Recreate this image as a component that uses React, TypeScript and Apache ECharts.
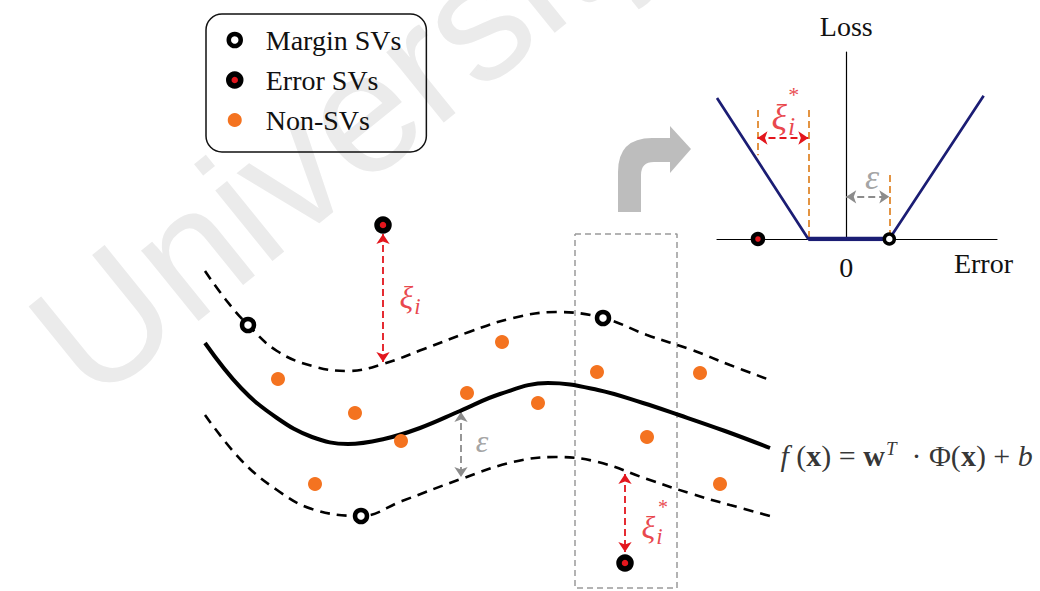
import React, { useEffect, useRef } from "react";
import * as echarts from "echarts";

// ---------- main panel (diagram units: x to the right, y downward) ----------
const fitCurve: [number, number][] = [
  [205, 343], [241, 388], [277, 418], [312, 437], [348, 444], [384, 439], [420, 428],
  [460, 411], [500, 394], [548, 383], [598, 390], [643, 403], [679, 415],
  [725, 431], [770, 448],
];
const upperTube: [number, number][] = [
  [205, 271], [226, 300], [248, 325], [277, 351], [312, 366], [348, 371], [383, 364],
  [424, 349], [469, 332], [513, 318], [556, 312], [603, 318], [647, 335], [692, 350],
  [730, 365], [770, 380],
];
const lowerTube: [number, number][] = [
  [205, 415], [241, 460], [277, 490], [312, 509], [361, 516], [402, 501], [461, 479],
  [513, 462], [556, 457], [598, 462], [647, 479], [692, 494], [730, 505], [770, 516],
];
const marginSVs: [number, number][] = [[248, 325], [603, 318], [361, 516]];
const errorSVs: [number, number][] = [[383, 225], [625, 563]];
const nonSVs: [number, number][] = [
  [278, 379], [355, 413], [401, 441], [315, 484], [467, 393], [502, 342], [538, 403],
  [597, 372], [647, 437], [700, 373], [720, 484],
];
const slackArrows: [number, number][][] = [
  [[383, 234], [383, 362]],
  [[625, 474], [625, 552]],
];
const epsilonArrow: [number, number][] = [[461, 412], [461, 477]];
const windowBox: [number, number][] = [[575, 234], [677, 234], [677, 588], [575, 588], [575, 234]];
const xiLabelAt: [number, number] = [410, 297];
const xiStarLabelAt: [number, number] = [652, 527];
const xiStarMarkAt: [number, number] = [663, 507];
const epsLabelAt: [number, number] = [482, 441];
const formulaAt: [number, number] = [780, 455];

// ---------- inset: epsilon-insensitive loss (x = error, y = loss) ----------
const lossCurve: [number, number][] = [[-3, 3.28], [-0.88, 0], [1, 0], [3.19, 3.33]];
const insensitiveZone: [number, number][] = [[-0.88, 0], [1, 0]];
const guideLines: [number, number][][] = [
  [[-2.06, 3.0], [-2.06, 1.95]],
  [[-0.88, 3.0], [-0.88, 0]],
  [[1, 1.49], [1, 0]],
];
const insetSlackArrow: [number, number][] = [[-2.06, 2.35], [-0.88, 2.35]];
const insetEpsArrow: [number, number][] = [[0, 0.98], [1, 0.98]];
const insetErrorSV: [number, number][] = [[-2.05, 0]];
const insetMarginSV: [number, number][] = [[1, 0]];
const insetXiAt: [number, number] = [-1.46, 2.84];
const insetXiStarAt: [number, number] = [-1.22, 3.35];
const insetEpsAt: [number, number] = [0.6, 1.44];

const legendNames = ["Margin SVs", "Error SVs", "Non-SVs"];

const SERIF = "Liberation Serif, Times New Roman, DejaVu Serif, serif";
const SANS = "Liberation Sans, Arial, sans-serif";
const RED = "#e3161d";
const ORANGE = "#f47320";
const NAVY = "#1b1d74";
const GREY = "#8c8c8c";
const BENT_ARROW_PATH =
  "M18 92 L18 52 Q18 18 52 18 L70 18 L70 6 L91 29 L70 53 L70 42 L54 42 Q41 42 41 55 L41 92 Z";

const legendText = { fontFamily: SERIF, fontSize: 28, color: "#111", fontStyle: "normal" };

function greek(color: string, size: number) {
  return {
    g: { fontFamily: SERIF, fontStyle: "italic", fontSize: size, color, lineHeight: size + 10 },
    s: {
      fontFamily: SERIF, fontStyle: "italic", fontSize: Math.round(size * 0.72), color,
      verticalAlign: "bottom", lineHeight: size + 10, padding: [0, 0, 0, 1],
    },
  };
}

function labelPoint(value: [number, number], text: string, rich: any, extra: any = {}) {
  return {
    value,
    label: { show: true, formatter: text, rich, position: "inside", ...extra },
  };
}

function buildOption(): any {
  const hiddenAxis = { type: "value", show: false };
  const FS = 30;
  const formulaRich = {
    n: { fontFamily: SERIF, fontSize: FS, color: "#000", lineHeight: 42 },
    it: { fontFamily: SERIF, fontSize: FS, fontStyle: "italic", color: "#000", lineHeight: 42 },
    bd: { fontFamily: SERIF, fontSize: FS, fontWeight: "bold", color: "#000", lineHeight: 42 },
    sup: {
      fontFamily: SERIF, fontSize: 19, fontStyle: "italic", color: "#000", lineHeight: 42,
      verticalAlign: "top", padding: [5, 0, 0, 1],
    },
  };
  const arrowLines = (data: [number, number][][], color: string, xi: number, size: number) => ({
    type: "lines",
    coordinateSystem: "cartesian2d",
    xAxisIndex: xi,
    yAxisIndex: xi,
    silent: true,
    symbol: ["arrow", "arrow"],
    symbolSize: size,
    lineStyle: { color, width: 1.8, type: [7, 4], opacity: 1, curveness: 0 },
    data: data.map((c) => ({ coords: c })),
    z: 3,
  });
  return {
    animation: false,
    backgroundColor: "#fff",
    textStyle: { fontFamily: SERIF },
    grid: [
      { left: 0, top: 0, width: 1040, height: 591 },
      { left: 717, top: 52, width: 280, height: 187 },
    ],
    xAxis: [
      { ...hiddenAxis, gridIndex: 0, min: 0, max: 1040 },
      {
        type: "value", gridIndex: 1, min: -3, max: 3.5, interval: 1,
        axisLine: { show: true, lineStyle: { color: "#000", width: 1.2 } },
        axisTick: { show: false }, splitLine: { show: false },
        axisLabel: {
          formatter: (v: number) => (v === 0 ? "0" : ""),
          fontFamily: SERIF, fontSize: 28, color: "#111", margin: 14,
        },
        name: "Error", nameLocation: "end", nameGap: 16,
        nameTextStyle: {
          fontFamily: SERIF, fontSize: 28, color: "#111", align: "right",
          verticalAlign: "top", padding: [10, 0, 0, 0],
        },
      },
    ],
    yAxis: [
      { ...hiddenAxis, gridIndex: 0, min: 0, max: 591, inverse: true },
      {
        type: "value", gridIndex: 1, min: 0, max: 4.35,
        axisLine: { show: true, onZero: true, lineStyle: { color: "#000", width: 1.2 } },
        axisTick: { show: false }, splitLine: { show: false }, axisLabel: { show: false },
        name: "Loss", nameLocation: "end", nameGap: 12,
        nameTextStyle: { fontFamily: SERIF, fontSize: 28, color: "#111" },
      },
    ],
    legend: {
      left: 206, top: 14, orient: "vertical",
      data: [
        {
          name: legendNames[0], textStyle: legendText,
          itemStyle: { color: "#fff", borderColor: "#000", borderWidth: 4.5 },
        },
        {
          name: legendNames[1], textStyle: legendText,
          itemStyle: { color: RED, borderColor: "#000", borderWidth: 5.5 },
        },
        {
          name: legendNames[2], textStyle: legendText,
          itemStyle: { color: ORANGE, borderColor: ORANGE, borderWidth: 2 },
        },
      ],
      itemWidth: 52, itemHeight: 12, itemGap: 12,
      padding: [12, 25, 18, 20],
      borderColor: "#111", borderWidth: 1.5, borderRadius: 16,
      backgroundColor: "transparent",
      selectedMode: false,
      textStyle: { ...legendText, lineHeight: 28 },
    },
    graphic: [
      {
        type: "text", x: 55, y: 360, rotation: (39 * Math.PI) / 180, z: -100, silent: true,
        style: {
          text: "University", font: `172px ${SANS}`,
          fill: "#ebebeb", verticalAlign: "middle",
        },
      },
      {
        type: "bentArrow", x: 600, y: 120, silent: true,
        style: { fill: "#bdbdbd" },
      },
    ],
    series: [
      {
        type: "line", name: "window", data: windowBox, symbol: "none", silent: true,
        lineStyle: { color: "#9a9a9a", width: 1.5, type: [6, 4] }, z: 1,
      },
      {
        type: "line", name: "upper", data: upperTube, smooth: 0.4, symbol: "none", silent: true,
        lineStyle: { color: "#000", width: 2.6, type: [10, 7] },
      },
      {
        type: "line", name: "lower", data: lowerTube, smooth: 0.4, symbol: "none", silent: true,
        lineStyle: { color: "#000", width: 2.6, type: [10, 7] },
      },
      {
        type: "line", name: "fit", data: fitCurve, smooth: 0.4, symbol: "none", silent: true,
        lineStyle: { color: "#000", width: 4 },
      },
      arrowLines(slackArrows, RED, 0, 10),
      arrowLines([epsilonArrow], GREY, 0, 10),
      {
        type: "scatter", name: legendNames[2], data: nonSVs, symbolSize: 14, silent: true,
        itemStyle: { color: ORANGE, opacity: 1 }, z: 4,
      },
      {
        type: "scatter", name: legendNames[0], data: marginSVs, symbolSize: 12, silent: true,
        itemStyle: { color: "#fff", borderColor: "#000", borderWidth: 4.5, opacity: 1 }, z: 5,
      },
      {
        type: "scatter", name: legendNames[1], data: errorSVs, symbolSize: 12, silent: true,
        itemStyle: { color: RED, borderColor: "#000", borderWidth: 5.5, opacity: 1 }, z: 5,
      },
      {
        type: "scatter", name: "notes", silent: true, symbolSize: 1,
        itemStyle: { color: "transparent" }, z: 6,
        data: [
          labelPoint(xiLabelAt, "{g|ξ}{s|i}", greek(RED, 32)),
          labelPoint(xiStarLabelAt, "{g|ξ}{s|i}", greek(RED, 32)),
          labelPoint(xiStarMarkAt, "{m|*}", { m: { fontFamily: SERIF, fontSize: 20, color: RED } }),
          labelPoint(epsLabelAt, "{g|ε}", greek(GREY, 32)),
          labelPoint(
            formulaAt,
            "{it|f}{n| (}{bd|x}{n|) = }{bd|w}{sup|T}{n|  · Φ(}{bd|x}{n|) + }{it|b}",
            formulaRich,
            { position: "right", distance: 0 },
          ),
        ],
      },
      // ----- inset -----
      {
        type: "lines", coordinateSystem: "cartesian2d", xAxisIndex: 1, yAxisIndex: 1, silent: true,
        lineStyle: { color: "#e0892f", width: 1.8, type: [7, 4], opacity: 1 },
        data: guideLines.map((c) => ({ coords: c })), z: 2,
      },
      {
        type: "line", name: "loss", xAxisIndex: 1, yAxisIndex: 1, data: lossCurve, symbol: "none",
        silent: true, clip: false, lineStyle: { color: NAVY, width: 2.7 }, z: 3,
      },
      {
        type: "line", name: "zone", xAxisIndex: 1, yAxisIndex: 1, data: insensitiveZone,
        symbol: "none", silent: true, lineStyle: { color: NAVY, width: 4.5 }, z: 3,
      },
      arrowLines([insetSlackArrow], RED, 1, 10),
      arrowLines([insetEpsArrow], GREY, 1, 10),
      {
        type: "scatter", name: legendNames[1], xAxisIndex: 1, yAxisIndex: 1, data: insetErrorSV,
        symbolSize: 10, silent: true,
        itemStyle: { color: RED, borderColor: "#000", borderWidth: 4.5, opacity: 1 }, z: 5,
      },
      {
        type: "scatter", name: legendNames[0], xAxisIndex: 1, yAxisIndex: 1, data: insetMarginSV,
        symbolSize: 10, silent: true,
        itemStyle: { color: "#fff", borderColor: "#000", borderWidth: 3.5, opacity: 1 }, z: 5,
      },
      {
        type: "scatter", name: "insetNotes", xAxisIndex: 1, yAxisIndex: 1, silent: true,
        symbolSize: 1, itemStyle: { color: "transparent" }, z: 6,
        data: [
          labelPoint(insetXiAt, "{g|ξ}{s|i}", greek(RED, 36)),
          labelPoint(insetXiStarAt, "{m|*}", { m: { fontFamily: SERIF, fontSize: 22, color: RED } }),
          labelPoint(insetEpsAt, "{g|ε}", greek(GREY, 36)),
        ],
      },
    ],
  };
}

export default function App() {
  const ref = useRef<HTMLDivElement>(null);
  useEffect(() => {
    if (!ref.current) return;
    echarts.graphic.registerShape("bentArrow", echarts.graphic.extendPath(BENT_ARROW_PATH, {}));
    const chart = echarts.init(ref.current, null, { renderer: "svg" });
    chart.setOption(buildOption());
    return () => chart.dispose();
  }, []);
  return (
    <div
      ref={ref}
      style={{ position: "fixed", left: 0, top: 0, width: 1040, height: 591, background: "#fff" }}
    />
  );
}
